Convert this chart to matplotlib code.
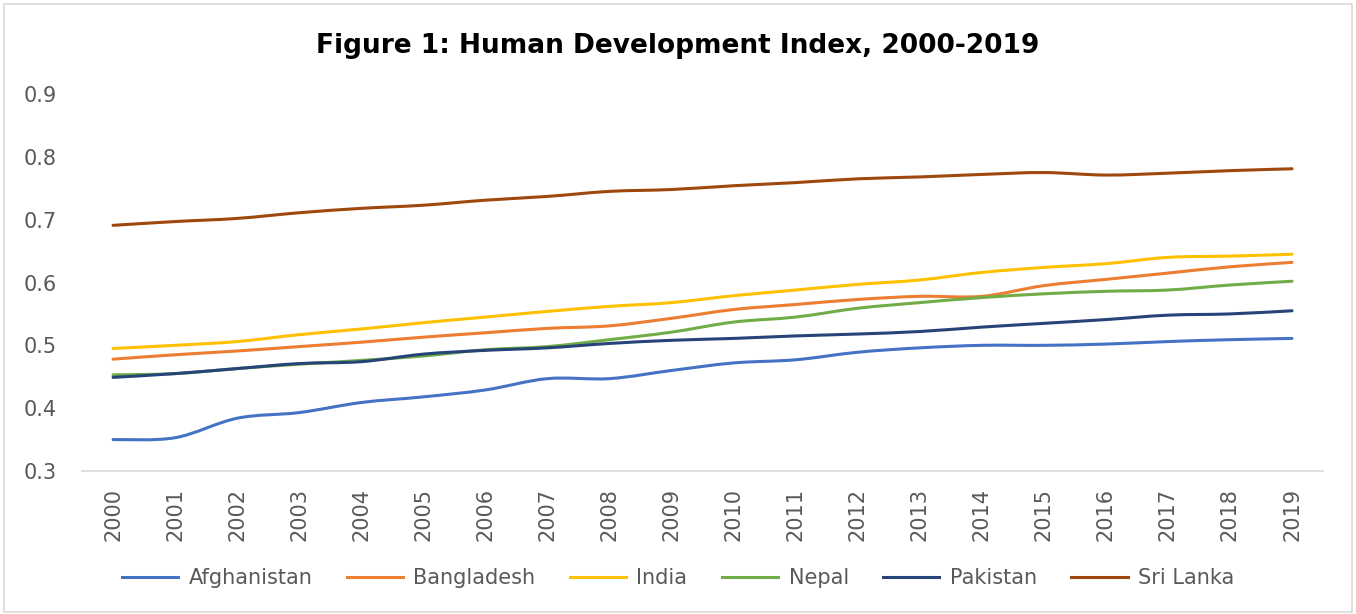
import matplotlib.pyplot as plt
from matplotlib.path import Path
from matplotlib.patches import PathPatch, Rectangle
from matplotlib.lines import Line2D

years = list(range(2000, 2020))

afghanistan = [0.350, 0.353, 0.384, 0.393, 0.409, 0.418, 0.429, 0.447, 0.447, 0.460,
               0.472, 0.477, 0.489, 0.496, 0.500, 0.500, 0.502, 0.506, 0.509, 0.511]
bangladesh = [0.478, 0.485, 0.491, 0.498, 0.505, 0.513, 0.520, 0.527, 0.531, 0.543,
              0.557, 0.565, 0.573, 0.578, 0.578, 0.595, 0.605, 0.615, 0.625, 0.632]
india = [0.495, 0.500, 0.506, 0.517, 0.526, 0.536, 0.545, 0.554, 0.562, 0.568,
         0.579, 0.588, 0.597, 0.604, 0.616, 0.624, 0.630, 0.640, 0.642, 0.645]
nepal = [0.453, 0.455, 0.463, 0.470, 0.476, 0.483, 0.493, 0.498, 0.509, 0.521,
         0.537, 0.545, 0.559, 0.568, 0.576, 0.582, 0.586, 0.588, 0.596, 0.602]
pakistan = [0.449, 0.455, 0.463, 0.471, 0.474, 0.486, 0.492, 0.496, 0.503, 0.508,
            0.511, 0.515, 0.518, 0.522, 0.529, 0.535, 0.541, 0.548, 0.550, 0.555]
sri_lanka = [0.691, 0.697, 0.702, 0.711, 0.718, 0.723, 0.731, 0.737, 0.745, 0.748,
             0.754, 0.759, 0.765, 0.768, 0.772, 0.775, 0.771, 0.774, 0.778, 0.781]

names = ["Afghanistan", "Bangladesh", "India", "Nepal", "Pakistan", "Sri Lanka"]
colors = ["#4472C4", "#ED7D31", "#FFC000", "#70AD47", "#264478", "#9E480E"]
series = [afghanistan, bangladesh, india, nepal, pakistan, sri_lanka]


def smooth_path(xs, ys):
    # excel-style smoothed line: catmull-rom turned into bezier segments
    pts = list(zip(xs, ys))
    verts = [pts[0]]
    codes = [Path.MOVETO]
    n = len(pts)
    for i in range(n - 1):
        p0 = pts[i - 1] if i > 0 else pts[i]
        p1 = pts[i]
        p2 = pts[i + 1]
        p3 = pts[i + 2] if i + 2 < n else pts[i + 1]
        c1 = (p1[0] + (p2[0] - p0[0]) / 6, p1[1] + (p2[1] - p0[1]) / 6)
        c2 = (p2[0] - (p3[0] - p1[0]) / 6, p2[1] - (p3[1] - p1[1]) / 6)
        verts += [c1, c2, p2]
        codes += [Path.CURVE4] * 3
    return Path(verts, codes)


fig = plt.figure(figsize=(13.56, 6.14), dpi=100)
fig.patches.append(Rectangle((0.003, 0.003), 0.994, 0.99, transform=fig.transFigure,
                             fill=False, edgecolor="#D9D9D9", linewidth=1.2))
ax = fig.add_axes([0.0605, 0.2329, 0.9152, 0.614])

xpos = list(range(len(years)))
handles = []
for name, col, vals in zip(names, colors, series):
    ax.add_patch(PathPatch(smooth_path(xpos, vals), fill=False, edgecolor=col,
                           linewidth=2.2, capstyle="round"))
    handles.append(Line2D([], [], color=col, linewidth=2.2, label=name))

ax.set_xlim(-0.5, len(years) - 0.5)
ax.set_ylim(0.3, 0.9)
ax.set_xticks(xpos)
ax.set_xticklabels([str(y) for y in years], rotation=90)
ax.set_yticks([0.3, 0.4, 0.5, 0.6, 0.7, 0.8, 0.9])
ax.set_yticklabels(["0.3", "0.4", "0.5", "0.6", "0.7", "0.8", "0.9"])
ax.tick_params(axis="both", length=0, labelsize=15, labelcolor="#595959")
ax.tick_params(axis="y", pad=18)
ax.tick_params(axis="x", pad=12)
for s in ["top", "right", "left"]:
    ax.spines[s].set_visible(False)
ax.spines["bottom"].set_color("#D9D9D9")
ax.spines["bottom"].set_linewidth(1.2)

fig.text(0.5, 0.925, "Figure 1: Human Development Index, 2000-2019", ha="center",
         va="center", fontsize=19, fontweight="bold", color="black")

leg = fig.legend(handles=handles, loc="center", bbox_to_anchor=(0.5, 0.058), ncol=6,
                 frameon=False, fontsize=15, handlelength=2.7, columnspacing=1.65,
                 handletextpad=0.5)
for t in leg.get_texts():
    t.set_color("#595959")

fig.savefig("out.png", dpi=100)
